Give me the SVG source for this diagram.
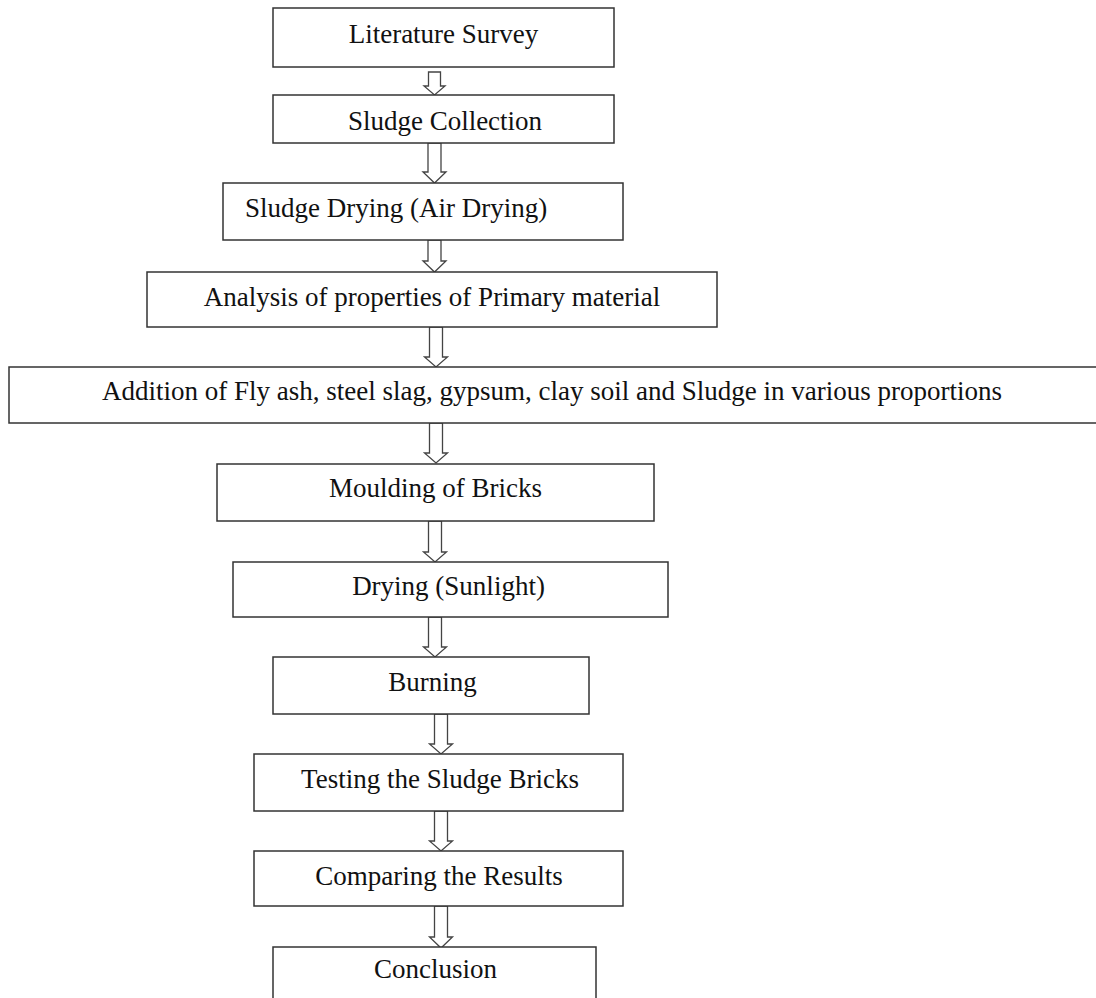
<svg xmlns="http://www.w3.org/2000/svg" width="1096" height="998" viewBox="0 0 1096 998">
<style>
.box{fill:#fff;stroke:#333;stroke-width:1.5}
.lbl{font-family:"Liberation Serif","Times New Roman",serif;font-size:27px;fill:#111}
.mid{text-anchor:middle}
.arr{fill:#fff;stroke:#444;stroke-width:1.3;stroke-linejoin:miter}
</style>
<rect width="1096" height="998" fill="#fff"/>
<g id="connectors">
<path class="arr" d="M428.5 72 V86 H424 L434.5 95 L445 86 H440.5 V72 Z"/>
<path class="arr" d="M428 143 V172 H423 L434.5 183 L446 172 H441 V143 Z"/>
<path class="arr" d="M428 240 V261 H423 L434.5 272 L446 261 H441 V240 Z"/>
<path class="arr" d="M429.5 327 V357 H424.5 L436 367 L447.5 357 H442.5 V327 Z"/>
<path class="arr" d="M429.5 423 V453 H424.5 L436 463 L447.5 453 H442.5 V423 Z"/>
<path class="arr" d="M428.5 521 V552 H423.5 L435 562 L446.5 552 H441.5 V521 Z"/>
<path class="arr" d="M428.5 617 V647 H423.5 L435 657 L446.5 647 H441.5 V617 Z"/>
<path class="arr" d="M434.5 714 V744 H429.5 L441 754 L452.5 744 H447.5 V714 Z"/>
<path class="arr" d="M434.5 811 V841 H429.5 L441 851 L452.5 841 H447.5 V811 Z"/>
<path class="arr" d="M434.5 906 V937 H429.5 L441 948 L452.5 937 H447.5 V906 Z"/>
</g>
<g id="n1"><rect class="box" x="273" y="8" width="341" height="59"/><text class="lbl mid" x="443.5" y="43">Literature Survey</text></g>
<g id="n2"><rect class="box" x="273" y="95" width="341" height="48"/><text class="lbl mid" x="445" y="130">Sludge Collection</text></g>
<g id="n3"><rect class="box" x="223" y="183" width="400" height="57"/><text class="lbl" x="245" y="217">Sludge Drying (Air Drying)</text></g>
<g id="n4"><rect class="box" x="147" y="272" width="570" height="55"/><text class="lbl mid" x="432" y="306">Analysis of properties of Primary material</text></g>
<g id="n5"><rect class="box" x="9" y="367" width="1100" height="56"/><text class="lbl" x="102" y="400">Addition of Fly ash, steel slag, gypsum, clay soil and Sludge in various proportions</text></g>
<g id="n6"><rect class="box" x="217" y="464" width="437" height="57"/><text class="lbl mid" x="435.5" y="497">Moulding of Bricks</text></g>
<g id="n7"><rect class="box" x="233" y="562" width="435" height="55"/><text class="lbl mid" x="448.5" y="595">Drying (Sunlight)</text></g>
<g id="n8"><rect class="box" x="273" y="657" width="316" height="57"/><text class="lbl mid" x="432.5" y="691">Burning</text></g>
<g id="n9"><rect class="box" x="254" y="754" width="369" height="57"/><text class="lbl mid" x="440" y="788">Testing the Sludge Bricks</text></g>
<g id="n10"><rect class="box" x="254" y="851" width="369" height="55"/><text class="lbl mid" x="439" y="885">Comparing the Results</text></g>
<g id="n11"><rect class="box" x="273" y="947" width="323" height="60"/><text class="lbl mid" x="435.5" y="978">Conclusion</text></g>
</svg>
